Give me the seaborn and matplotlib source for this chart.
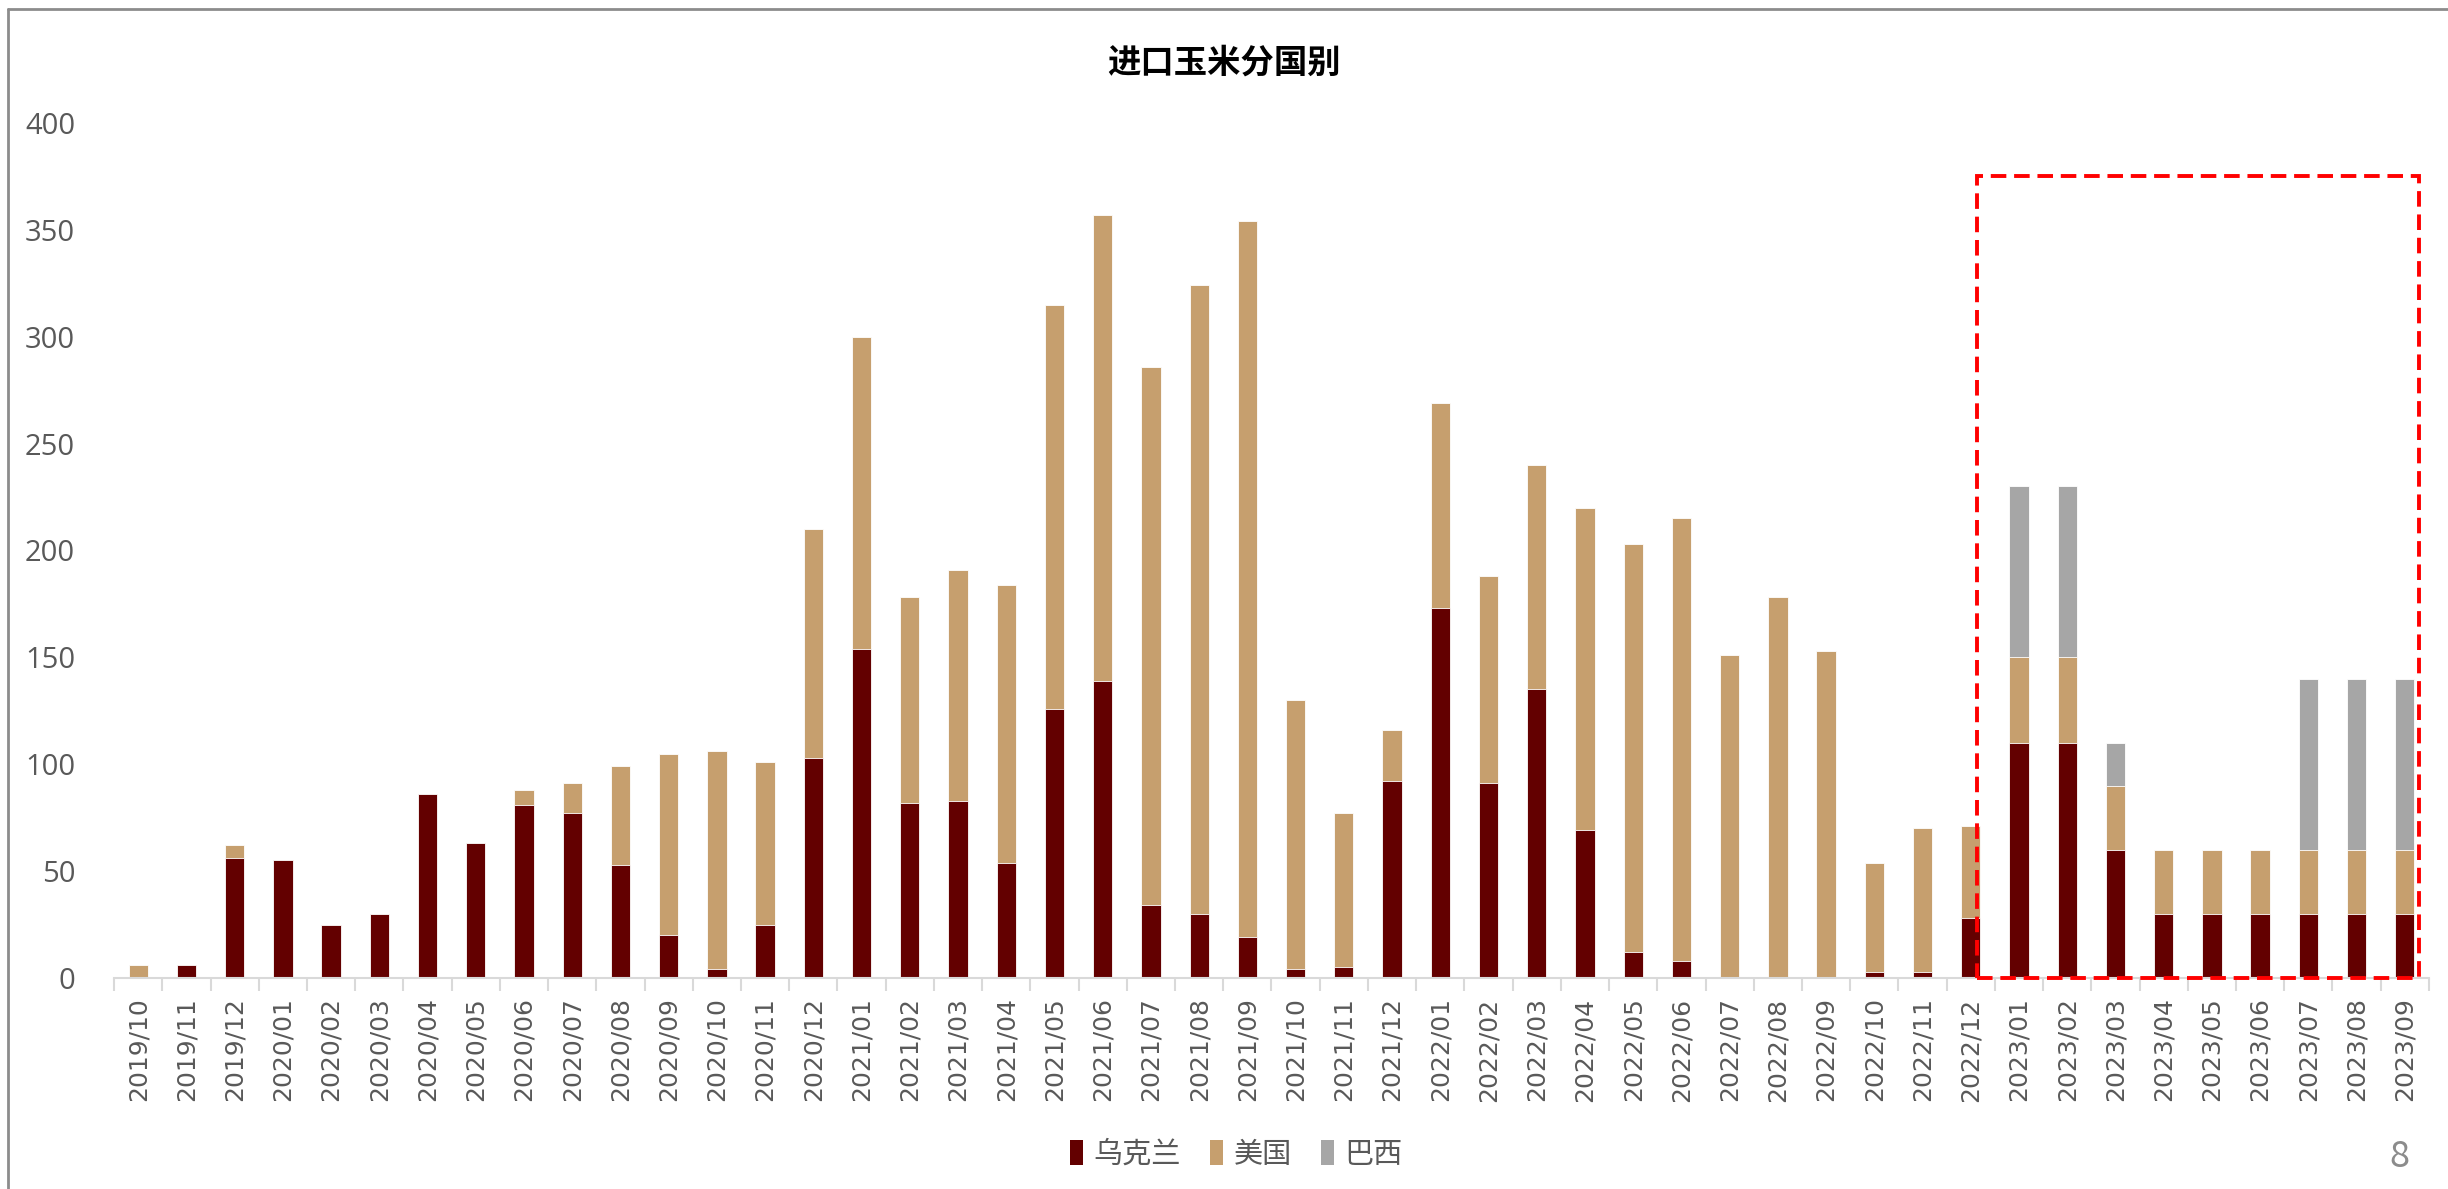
import matplotlib
matplotlib.use("Agg")
import matplotlib.pyplot as plt
from matplotlib.patches import Patch, Rectangle
from matplotlib.lines import Line2D
import numpy as np
import pandas as pd
import seaborn as sns

sns.set_theme(style="white")
plt.rcParams['font.family'] = ['Noto Sans CJK SC', 'DejaVu Sans']

months = [
    "2019/10", "2019/11", "2019/12",
    "2020/01", "2020/02", "2020/03", "2020/04", "2020/05", "2020/06",
    "2020/07", "2020/08", "2020/09", "2020/10", "2020/11", "2020/12",
    "2021/01", "2021/02", "2021/03", "2021/04", "2021/05", "2021/06",
    "2021/07", "2021/08", "2021/09", "2021/10", "2021/11", "2021/12",
    "2022/01", "2022/02", "2022/03", "2022/04", "2022/05", "2022/06",
    "2022/07", "2022/08", "2022/09", "2022/10", "2022/11", "2022/12",
    "2023/01", "2023/02", "2023/03", "2023/04", "2023/05", "2023/06",
    "2023/07", "2023/08", "2023/09",
]

# 万吨
ukraine = [0, 6, 56,
           55, 25, 30, 86, 63, 81, 77, 53, 20, 4, 25, 103,
           154, 82, 83, 54, 126, 139, 34, 30, 19, 4, 5, 92,
           173, 91, 135, 69, 12, 8, 0, 0, 0, 3, 3, 28,
           110, 110, 60, 30, 30, 30, 30, 30, 30]
usa = [6, 0, 6,
       0, 0, 0, 0, 0, 7, 14, 46, 85, 102, 76, 107,
       146, 96, 108, 130, 189, 218, 252, 294, 335, 126, 72, 24,
       96, 97, 105, 151, 191, 207, 151, 178, 153, 51, 67, 43,
       40, 40, 30, 30, 30, 30, 30, 30, 30]
brazil = [0] * 39 + [80, 80, 20, 0, 0, 0, 80, 80, 80]

series_names = ["乌克兰", "美国", "巴西"]
colors = {"乌克兰": "#630000", "美国": "#C69F6E", "巴西": "#A6A6A6"}

df = pd.DataFrame({"month": months, "乌克兰": ukraine, "美国": usa, "巴西": brazil})
df["c_ukr"] = df["乌克兰"]
df["c_usa"] = df["c_ukr"] + df["美国"]
df["c_bra"] = df["c_usa"] + df["巴西"]

fig = plt.figure(figsize=(24.48, 11.89), dpi=100)
ax = fig.add_axes([0.0466, 0.1775, 0.9456, 0.7191])

# stacked look: draw cumulative totals from tallest layer down
for col, name in [("c_bra", "巴西"), ("c_usa", "美国"), ("c_ukr", "乌克兰")]:
    sns.barplot(data=df, x="month", y=col, order=months, color=colors[name],
                saturation=1, width=0.4, errorbar=None, ax=ax,
                edgecolor="white", linewidth=0.6)

ax.set_ylim(0, 400)
ax.set_xlim(-0.5, len(months) - 0.5)
ax.set_yticks(np.arange(0, 401, 50))
ax.set_xlabel("")
ax.set_ylabel("")

for s in ["left", "right", "top"]:
    ax.spines[s].set_visible(False)
ax.spines["bottom"].set_color("#D9D9D9")
ax.spines["bottom"].set_linewidth(1.5)

ax.tick_params(axis="y", length=0, pad=28, labelsize=21, labelcolor="#595959")
ax.tick_params(axis="x", which="major", length=0, pad=14, labelsize=18,
               labelcolor="#595959", labelrotation=90)
ax.set_xticks(np.arange(-0.5, len(months), 1), minor=True)
ax.tick_params(axis="x", which="minor", length=9, width=1.5, color="#D9D9D9",
               bottom=True)
for lab in ax.get_xticklabels():
    lab.set_family(['DejaVu Sans'])
for lab in ax.get_yticklabels():
    lab.set_family(['Open Sans', 'DejaVu Sans'])

# highlight box over the 2023 forecast months
ax.add_patch(Rectangle((38.13, 0), 9.17, 375, fill=False, edgecolor="#FF0000",
                       linestyle=(0, (4, 2)), linewidth=2.8, clip_on=False, zorder=5))

fig.text(0.5, 0.947, "进口玉米分国别", ha="center", va="center",
         fontsize=24, fontweight="bold", color="black")

handles = [Patch(facecolor=colors[n], edgecolor="none", label=n) for n in series_names]
fig.legend(handles=handles, loc="center", bbox_to_anchor=(0.505, 0.029), ncol=3,
           frameon=False, fontsize=21, handlelength=0.45, handleheight=0.9,
           handletextpad=0.35, columnspacing=1.0, labelcolor="#595959")

fig.text(0.98, 0.027, "8", ha="center", va="center", fontsize=26, color="#8C8C8C")

# page frame (top and left edges only)
fig.add_artist(Line2D([0.0033, 1.0], [0.9924, 0.9924], transform=fig.transFigure,
                      color="#8C8C8C", linewidth=2))
fig.add_artist(Line2D([0.0033, 0.0033], [0.0, 0.9924], transform=fig.transFigure,
                      color="#8C8C8C", linewidth=2))

fig.savefig("out.png", dpi=100, facecolor="white")
